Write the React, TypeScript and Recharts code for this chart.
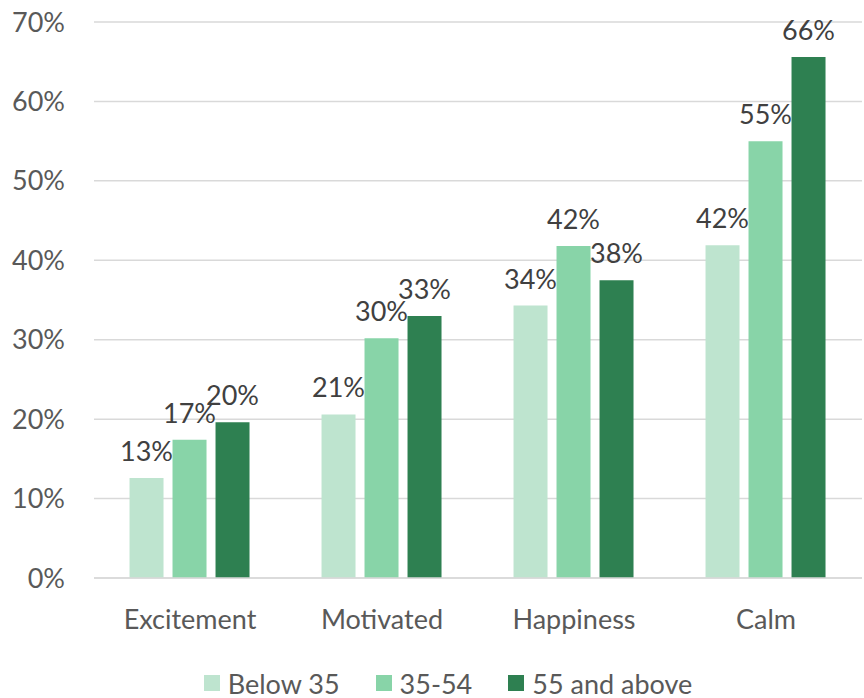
import { BarChart, Bar, XAxis, YAxis, CartesianGrid, Legend, LabelList } from 'recharts';

const categories = ['Excitement', 'Motivated', 'Happiness', 'Calm'];
const below35 = [12.6, 20.6, 34.3, 41.9];
const age35to54 = [17.4, 30.2, 41.8, 55.0];
const age55plus = [19.6, 33.0, 37.5, 65.6];
const yTicks = [0, 10, 20, 30, 40, 50, 60, 70];

const SERIES = [
  { key: 'below35', name: 'Below 35', color: '#BEE4CF' },
  { key: 'mid', name: '35-54', color: '#88D4A8' },
  { key: 'senior', name: '55 and above', color: '#2E8051' },
];

const FONT = 'Lato, "Open Sans", sans-serif';

const data = categories.map((c, i) => ({
  name: c,
  below35: below35[i],
  mid: age35to54[i],
  senior: age55plus[i],
}));

const pct = (v: any) => `${Math.round(Number(v))}%`;

function LegendRow() {
  return (
    <div style={{ display: 'flex', justifyContent: 'center', alignItems: 'center', height: 30, paddingTop: 14, paddingLeft: 34, fontFamily: FONT, fontSize: 27, color: '#595959' }}>
      {SERIES.map(s => (
        <div key={s.key} style={{ display: 'flex', alignItems: 'center', margin: '0 18px' }}>
          <span style={{ width: 16, height: 16, background: s.color, display: 'inline-block', marginRight: 8 }} />
          <span>{s.name}</span>
        </div>
      ))}
    </div>
  );
}

export default function App() {
  return (
    <div style={{ position: 'absolute', left: 0, top: 0, width: 864, height: 698, background: '#fff' }}>
      <BarChart
        width={864}
        height={698}
        data={data}
        margin={{ top: 22, right: 2, left: 0, bottom: 0 }}
        barCategoryGap="18.5%"
        barGap={9}
      >
        <CartesianGrid vertical={false} stroke="#D9D9D9" strokeWidth={1.5} />
        <XAxis
          dataKey="name"
          axisLine={{ stroke: '#D9D9D9', strokeWidth: 1.5 }}
          tickLine={false}
          tickSize={0}
          tickMargin={32}
          height={76}
          tick={{ fill: '#595959', fontSize: 27, fontFamily: FONT }}
        />
        <YAxis
          domain={[0, 70]}
          ticks={yTicks}
          tickFormatter={pct}
          axisLine={false}
          tickLine={false}
          tickSize={0}
          tickMargin={29}
          width={94}
          interval={0}
          tick={{ fill: '#595959', fontSize: 27, fontFamily: FONT }}
        />
        <Legend verticalAlign="bottom" content={() => <LegendRow />} />
        {SERIES.map(s => (
          <Bar key={s.key} dataKey={s.key} name={s.name} fill={s.color} isAnimationActive={false}>
            <LabelList
              dataKey={s.key}
              position="top"
              offset={17}
              formatter={pct}
              style={{ fill: '#404040', fontSize: 27, fontFamily: FONT }}
            />
          </Bar>
        ))}
      </BarChart>
    </div>
  );
}
